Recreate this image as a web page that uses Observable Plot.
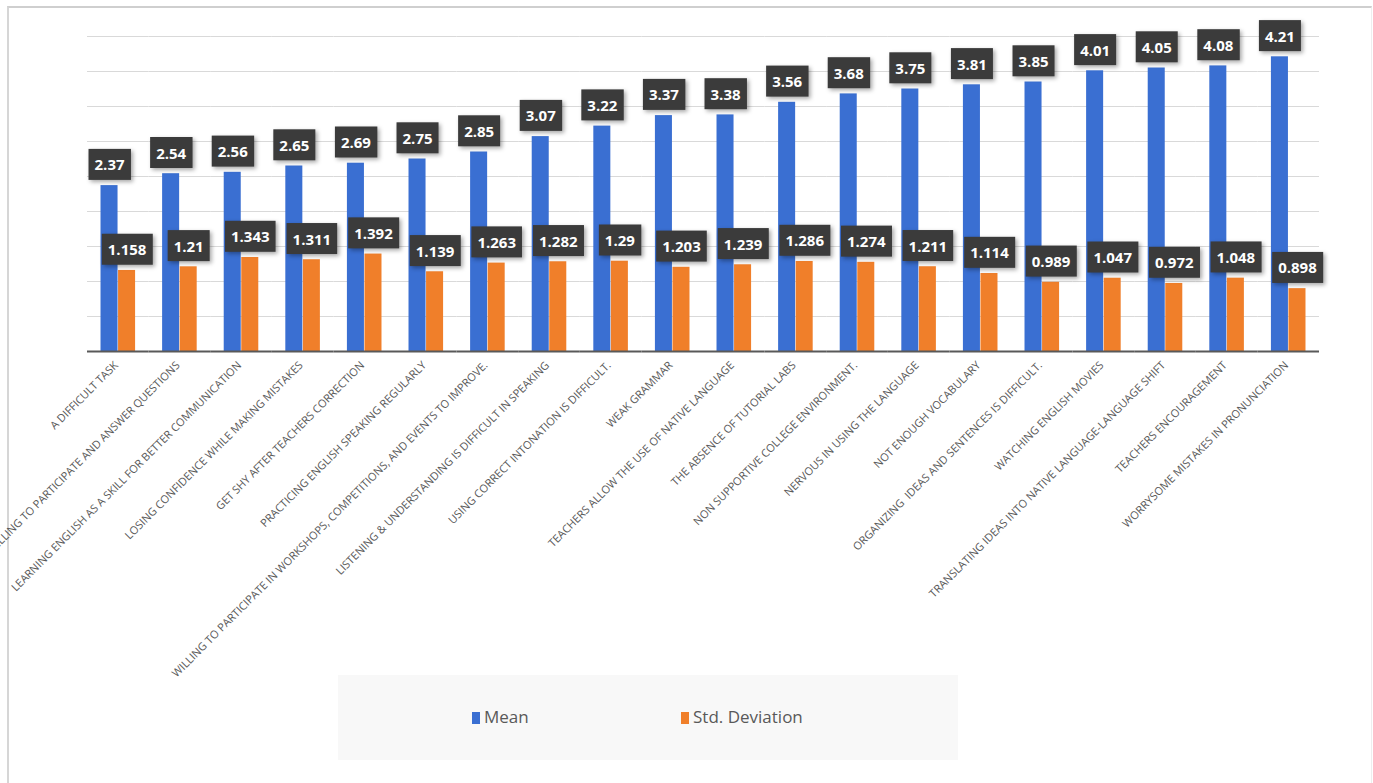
<!DOCTYPE html>
<html>
<head>
<meta charset="utf-8">
<script src="https://cdn.jsdelivr.net/npm/d3@7"></script>
<script src="https://cdn.jsdelivr.net/npm/@observablehq/plot@0.6"></script>
<style>
  body { margin: 0; background: #fff; font-family: "Open Sans", sans-serif; }
  #wrap { position: relative; width: 1373px; height: 783px; overflow: hidden; }
  #border { position: absolute; left: 7px; top: 6px; width: 1362px; height: 790px;
            border-top: 2px solid #cfcfcf; border-left: 2px solid #d6d6d6; border-right: 1px solid #eeeeee; }
  #chart { position: absolute; left: 0; top: 0; }
  #legend { position: absolute; left: 338px; top: 675px; width: 620px; height: 85px; background: #f8f8f8; }
  .li { position: absolute; top: 30px; font-size: 17px; color: #595959; line-height: 24px; }
  .sw { display: inline-block; width: 8px; height: 12px; margin-right: 4px; vertical-align: -1px; }
</style>
</head>
<body>
<div id="wrap">
  <div id="border"></div>
  <div id="chart"></div>
  <div id="legend">
    <div class="li" style="left:134px"><span class="sw" style="background:#3a6fd2"></span>Mean</div>
    <div class="li" style="left:343px"><span class="sw" style="background:#f07f2a"></span>Std. Deviation</div>
  </div>
</div>
<script>
const categories = [
  "A DIFFICULT TASK",
  "UNWILLING TO PARTICIPATE AND ANSWER QUESTIONS",
  "LEARNING ENGLISH AS A SKILL FOR BETTER COMMUNICATION",
  "LOSING CONFIDENCE WHILE MAKING MISTAKES",
  "GET SHY AFTER TEACHERS CORRECTION",
  "PRACTICING ENGLISH SPEAKING REGULARLY",
  "WILLING TO PARTICIPATE IN WORKSHOPS, COMPETITIONS, AND EVENTS TO IMPROVE.",
  "LISTENING & UNDERSTANDING IS DIFFICULT IN SPEAKING",
  "USING CORRECT INTONATION IS DIFFICULT.",
  "WEAK GRAMMAR",
  "TEACHERS ALLOW THE USE OF NATIVE LANGUAGE",
  "THE ABSENCE OF TUTORIAL LABS",
  "NON SUPPORTIVE COLLEGE ENVIRONMENT.",
  "NERVOUS IN USING THE LANGUAGE",
  "NOT ENOUGH VOCABULARY",
  "ORGANIZING  IDEAS AND SENTENCES IS DIFFICULT.",
  "WATCHING ENGLISH MOVIES",
  "TRANSLATING IDEAS INTO NATIVE LANGUAGE-LANGUAGE SHIFT",
  "TEACHERS ENCOURAGEMENT",
  "WORRYSOME MISTAKES IN PRONUNCIATION"
];
const meanValues = [2.37, 2.54, 2.56, 2.65, 2.69, 2.75, 2.85, 3.07, 3.22, 3.37, 3.38, 3.56, 3.68, 3.75, 3.81, 3.85, 4.01, 4.05, 4.08, 4.21];
const stdValues = [1.158, 1.21, 1.343, 1.311, 1.392, 1.139, 1.263, 1.282, 1.29, 1.203, 1.239, 1.286, 1.274, 1.211, 1.114, 0.989, 1.047, 0.972, 1.048, 0.898];
const seriesNames = ["Mean", "Std. Deviation"];
const seriesColors = ["#3a6fd2", "#f07f2a"];
const yTicks = [0.5, 1, 1.5, 2, 2.5, 3, 3.5, 4, 4.5];

const data = categories.flatMap((c, i) => [
  {cat: c, series: seriesNames[0], value: meanValues[i], label: String(meanValues[i])},
  {cat: c, series: seriesNames[1], value: stdValues[i], label: String(stdValues[i])}
]);

const chart = Plot.plot({
  width: 1373,
  height: 783,
  marginLeft: 87,
  marginRight: 54,
  marginTop: 36,
  marginBottom: 432,
  style: {fontFamily: "Open Sans, sans-serif", background: "transparent", overflow: "visible"},
  fx: {domain: categories, padding: 0, round: false, label: null},
  x: {domain: seriesNames, paddingInner: 0.03, paddingOuter: 0.77, round: false, axis: null},
  y: {domain: [0, 4.5], axis: null},
  color: {domain: seriesNames, range: seriesColors},
  marks: [
    Plot.gridY(yTicks, {stroke: "#d9d9d9", strokeOpacity: 1, strokeWidth: 1}),
    Plot.barY(data, {fx: "cat", x: "series", y: "value", fill: "series"}),
    Plot.ruleY([0], {stroke: "#595959", strokeWidth: 2}),
    Plot.text(data, {fx: "cat", x: "series", y: "value", text: "label", dy: -20,
      fill: "white", fontWeight: "bold", fontSize: 15}),
    Plot.axisFx({anchor: "bottom", tickRotate: -45, tickSize: 0, tickPadding: 12, fontSize: 11, dx: -2,
      fill: "#5a5a5a", label: null, textOverflow: null, lineWidth: Infinity})
  ]
});
document.getElementById("chart").appendChild(chart);

// dark boxes behind value labels
const NS = "http://www.w3.org/2000/svg";
chart.querySelectorAll('g[aria-label="text"] text').forEach(t => {
  const b = t.getBBox();
  const r = document.createElementNS(NS, "rect");
  const cy = b.y + b.height / 2;
  r.setAttribute("x", b.x - 6);
  r.setAttribute("y", cy - 15.5);
  r.setAttribute("width", b.width + 12);
  r.setAttribute("height", 31);
  r.setAttribute("fill", "#3b3b3b");
  r.style.filter = "drop-shadow(2px 2px 2px rgba(0,0,0,0.35))";
  const tr = t.getAttribute("transform");
  if (tr) r.setAttribute("transform", tr);
  t.parentNode.insertBefore(r, t);
});
</script>
</body>
</html>
